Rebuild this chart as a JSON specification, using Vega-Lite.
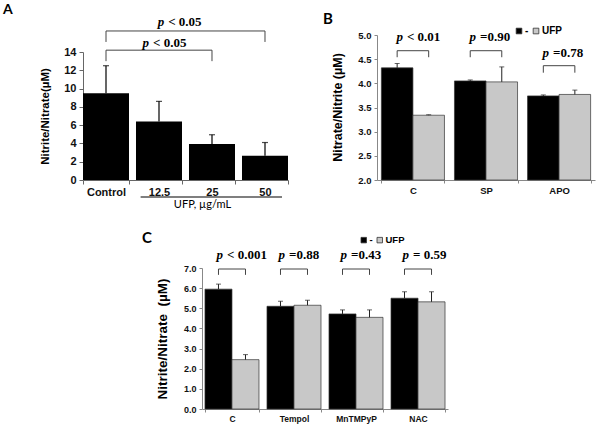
{
  "$schema": "https://vega.github.io/schema/vega-lite/v6.json",
  "width": 600,
  "height": 424,
  "autosize": "none",
  "padding": 0,
  "background": "white",
  "title": {"text": "A", "anchor": "start", "frame": "group", "orient": "top", "offset": 0, "dx": 3, "dy": 17, "baseline": "top", "font": "Lato", "fontSize": 14, "fontWeight": "bold", "color": "#000"},
  "config": {
    "view": {"stroke": null},
    "axis": {"grid": false, "labelFont": "Liberation Sans", "labelFontWeight": "bold", "labelColor": "#111", "titleFont": "Liberation Sans", "titleFontWeight": "bold", "titleColor": "#000", "labelFlush": false, "labelOverlap": false, "domainColor": "#888", "tickColor": "#888"}
  },
  "datasets": {
    "aBars": [
      {"dose": "Control", "v": 9.5, "hi": 12.5},
      {"dose": "12.5", "v": 6.4, "hi": 8.6},
      {"dose": "25", "v": 3.95, "hi": 4.95},
      {"dose": "50", "v": 2.65, "hi": 4.1}
    ],
    "aBrackets": [
      {"id": "u", "dose": "Control", "yv": 15.1, "k": 0},
      {"id": "u", "dose": "Control", "yv": 16.3, "k": 1},
      {"id": "u", "dose": "50", "yv": 16.3, "k": 2},
      {"id": "u", "dose": "50", "yv": 15.1, "k": 3},
      {"id": "l", "dose": "Control", "yv": 13.0, "k": 0},
      {"id": "l", "dose": "Control", "yv": 14.2, "k": 1},
      {"id": "l", "dose": "25", "yv": 14.2, "k": 2},
      {"id": "l", "dose": "25", "yv": 13.0, "k": 3}
    ],
    "aP": [
      {"pos": "upper", "dose": "12.5", "yv": 17.28, "rest": "< 0.05"},
      {"pos": "lower", "dose": "12.5", "yv": 14.98, "rest": "< 0.05"}
    ],
    "bBars": [
      {"g": "C", "s": "-", "v": 4.32, "hi": 4.41},
      {"g": "C", "s": "UFP", "v": 3.34, "hi": 3.35},
      {"g": "SP", "s": "-", "v": 4.05, "hi": 4.07},
      {"g": "SP", "s": "UFP", "v": 4.03, "hi": 4.34},
      {"g": "APO", "s": "-", "v": 3.74, "hi": 3.76},
      {"g": "APO", "s": "UFP", "v": 3.77, "hi": 3.86}
    ],
    "bBrackets": [
      {"g": "C", "s": "-", "yv": 4.54, "k": 0},
      {"g": "C", "s": "-", "yv": 4.675, "k": 1},
      {"g": "C", "s": "UFP", "yv": 4.675, "k": 2},
      {"g": "C", "s": "UFP", "yv": 4.54, "k": 3},
      {"g": "SP", "s": "-", "yv": 4.54, "k": 0},
      {"g": "SP", "s": "-", "yv": 4.675, "k": 1},
      {"g": "SP", "s": "UFP", "yv": 4.675, "k": 2},
      {"g": "SP", "s": "UFP", "yv": 4.54, "k": 3},
      {"g": "APO", "s": "-", "yv": 4.22, "k": 0},
      {"g": "APO", "s": "-", "yv": 4.365, "k": 1},
      {"g": "APO", "s": "UFP", "yv": 4.365, "k": 2},
      {"g": "APO", "s": "UFP", "yv": 4.22, "k": 3}
    ],
    "bP": [
      {"g": "C", "yv": 4.96, "rest": "< 0.01"},
      {"g": "SP", "yv": 4.96, "rest": "=0.90"},
      {"g": "APO", "yv": 4.63, "rest": "=0.78"}
    ],
    "cBars": [
      {"g": "C", "s": "-", "v": 5.95, "hi": 6.2},
      {"g": "C", "s": "UFP", "v": 2.45, "hi": 2.7},
      {"g": "Tempol", "s": "-", "v": 5.1, "hi": 5.35},
      {"g": "Tempol", "s": "UFP", "v": 5.15, "hi": 5.4},
      {"g": "MnTMPyP", "s": "-", "v": 4.72, "hi": 4.92},
      {"g": "MnTMPyP", "s": "UFP", "v": 4.55, "hi": 4.92},
      {"g": "NAC", "s": "-", "v": 5.5, "hi": 5.82},
      {"g": "NAC", "s": "UFP", "v": 5.32, "hi": 5.82}
    ],
    "cBrackets": [
      {"g": "C", "s": "-", "yv": 6.66, "k": 0},
      {"g": "C", "s": "-", "yv": 6.95, "k": 1},
      {"g": "C", "s": "UFP", "yv": 6.95, "k": 2},
      {"g": "C", "s": "UFP", "yv": 6.66, "k": 3},
      {"g": "Tempol", "s": "-", "yv": 6.66, "k": 0},
      {"g": "Tempol", "s": "-", "yv": 6.95, "k": 1},
      {"g": "Tempol", "s": "UFP", "yv": 6.95, "k": 2},
      {"g": "Tempol", "s": "UFP", "yv": 6.66, "k": 3},
      {"g": "MnTMPyP", "s": "-", "yv": 6.66, "k": 0},
      {"g": "MnTMPyP", "s": "-", "yv": 6.95, "k": 1},
      {"g": "MnTMPyP", "s": "UFP", "yv": 6.95, "k": 2},
      {"g": "MnTMPyP", "s": "UFP", "yv": 6.66, "k": 3},
      {"g": "NAC", "s": "-", "yv": 6.66, "k": 0},
      {"g": "NAC", "s": "-", "yv": 6.95, "k": 1},
      {"g": "NAC", "s": "UFP", "yv": 6.95, "k": 2},
      {"g": "NAC", "s": "UFP", "yv": 6.66, "k": 3}
    ],
    "cP": [
      {"g": "C", "yv": 7.67, "rest": "< 0.001"},
      {"g": "Tempol", "yv": 7.67, "rest": "=0.88"},
      {"g": "MnTMPyP", "yv": 7.67, "rest": "=0.43"},
      {"g": "NAC", "yv": 7.67, "rest": "= 0.59"}
    ]
  },
  "layer": [
    {
      "layer": [
        {
          "data": {"name": "aBars"},
          "mark": {"type": "bar", "color": "#000000"},
          "encoding": {
            "x": {"field": "dose", "type": "nominal", "sort": null,
              "scale": {"domain": ["Control", "12.5", "25", "50"], "range": [83, 288], "paddingInner": 0.132, "paddingOuter": 0},
              "axis": {"orient": "bottom", "offset": -244, "tickBand": "extent", "tickSize": 4, "labelFontSize": 11, "labelPadding": 2, "labelAngle": 0, "domainColor": "#666", "tickColor": "#666",
                "title": "UFP, µg/mL", "titleX": 202, "titleY": 24, "titleAngle": 0, "titleAlign": "center", "titleBaseline": "middle", "titleFont": "Lato", "titleFontWeight": "normal", "titleFontSize": 11}},
            "y": {"field": "v", "type": "quantitative",
              "scale": {"domain": [0, 14], "range": [180, 52], "nice": false},
              "axis": {"orient": "left", "offset": -83, "values": [0, 2, 4, 6, 8, 10, 12, 14], "tickSize": 4, "labelFontSize": 11, "labelPadding": 3, "domainColor": "#666", "tickColor": "#666",
                "title": "Nitrite/Nitrate(µM)", "titleX": -38, "titleY": 116, "titleAngle": -90, "titleAlign": "center", "titleBaseline": "middle", "titleFontSize": 11.5}}
          }
        },
        {
          "data": {"name": "aBars"},
          "mark": {"type": "rule", "color": "#000000", "strokeWidth": 1.2},
          "encoding": {
            "x": {"field": "dose", "type": "nominal", "sort": null},
            "y": {"field": "v", "type": "quantitative"},
            "y2": {"field": "hi"}
          }
        },
        {
          "data": {"name": "aBars"},
          "mark": {"type": "tick", "orient": "horizontal", "size": 6, "thickness": 1.2, "color": "#000000"},
          "encoding": {
            "x": {"field": "dose", "type": "nominal", "sort": null},
            "y": {"field": "hi", "type": "quantitative"}
          }
        },
        {
          "data": {"name": "aBrackets"},
          "mark": {"type": "line", "color": "#444444", "strokeWidth": 1},
          "encoding": {
            "x": {"field": "dose", "type": "nominal", "sort": null},
            "y": {"field": "yv", "type": "quantitative"},
            "detail": {"field": "id"},
            "order": {"field": "k", "type": "quantitative"}
          }
        },
        {
          "data": {"values": [{"label": "UFP"}]},
          "mark": {"type": "rule", "color": "#000000", "strokeWidth": 1.2, "x2Offset": 17},
          "encoding": {
            "x": {"datum": "12.5", "type": "nominal", "bandPosition": 0.1},
            "x2": {"datum": "50"},
            "y": {"datum": -1.86, "type": "quantitative"}
          }
        },
        {
          "data": {"name": "aP"},
          "transform": [{"filter": "datum.pos === 'upper'"}],
          "layer": [
            {
              "mark": {"type": "text", "text": "p", "font": "Liberation Serif", "fontSize": 13, "fontWeight": "bold", "fontStyle": "italic", "align": "right", "baseline": "middle", "dx": -10},
              "encoding": {
                "x": {"field": "dose", "type": "nominal", "sort": null, "bandPosition": 0.83},
                "y": {"field": "yv", "type": "quantitative"}
              }
            },
            {
              "mark": {"type": "text", "font": "Liberation Serif", "fontSize": 13, "fontWeight": "bold", "align": "left", "baseline": "middle", "dx": -6},
              "encoding": {
                "x": {"field": "dose", "type": "nominal", "sort": null, "bandPosition": 0.83},
                "y": {"field": "yv", "type": "quantitative"},
                "text": {"field": "rest"}
              }
            }
          ]
        },
        {
          "data": {"name": "aP"},
          "transform": [{"filter": "datum.pos === 'lower'"}],
          "layer": [
            {
              "mark": {"type": "text", "text": "p", "font": "Liberation Serif", "fontSize": 13, "fontWeight": "bold", "fontStyle": "italic", "align": "right", "baseline": "middle", "dx": -10},
              "encoding": {
                "x": {"field": "dose", "type": "nominal", "sort": null},
                "y": {"field": "yv", "type": "quantitative"}
              }
            },
            {
              "mark": {"type": "text", "font": "Liberation Serif", "fontSize": 13, "fontWeight": "bold", "align": "left", "baseline": "middle", "dx": -6},
              "encoding": {
                "x": {"field": "dose", "type": "nominal", "sort": null},
                "y": {"field": "yv", "type": "quantitative"},
                "text": {"field": "rest"}
              }
            }
          ]
        }
      ]
    },
    {
      "layer": [
        {
          "data": {"name": "bBars"},
          "mark": {"type": "bar", "stroke": "#333333", "strokeWidth": 0.7},
          "encoding": {
            "x": {"field": "g", "type": "nominal", "sort": null,
              "scale": {"domain": ["C", "SP", "APO"], "range": [377, 595], "paddingInner": 0.137, "paddingOuter": 0.06},
              "axis": {"orient": "bottom", "offset": -244, "tickBand": "extent", "tickSize": 3, "labelFontSize": 9.5, "labelPadding": 2, "labelAngle": 0,
                "title": "B", "titleX": 327.5, "titleY": -162, "titleAngle": 0, "titleAlign": "center", "titleBaseline": "middle", "titleFont": "Lato", "titleFontSize": 15, "titleFontWeight": "bold"}},
            "xOffset": {"field": "s", "type": "nominal", "sort": null, "scale": {"domain": ["-", "UFP"], "paddingInner": 0, "paddingOuter": 0}},
            "y": {"field": "v", "type": "quantitative",
              "scale": {"domain": [2, 5], "range": [180, 35], "nice": false, "zero": false},
              "axis": {"orient": "left", "offset": -377, "values": [2, 2.5, 3, 3.5, 4, 4.5, 5], "format": ".1f", "tickSize": 3, "labelFontSize": 9.5, "labelPadding": 3,
                "title": "Nitrate/Nitrite (µM)", "titleX": -40, "titleY": 107, "titleAngle": -90, "titleAlign": "center", "titleBaseline": "middle", "titleFontSize": 12.5}},
            "y2": {"datum": 2},
            "fill": {"field": "s", "type": "nominal", "sort": null,
              "scale": {"domain": ["-", "UFP"], "range": ["#000000", "#c8c8c8"]},
              "legend": {"orient": "none", "legendX": 514, "legendY": 26, "direction": "horizontal", "title": null, "symbolType": "square", "symbolSize": 32, "symbolStrokeColor": "#333333", "symbolStrokeWidth": 0.8, "labelFont": "Liberation Sans", "labelFontWeight": "bold", "labelFontSize": 10, "labelOffset": 1, "columnPadding": 2, "padding": 0}}
          }
        },
        {
          "data": {"name": "bBars"},
          "mark": {"type": "rule", "color": "#222222", "strokeWidth": 1},
          "encoding": {
            "x": {"field": "g", "type": "nominal", "sort": null},
            "xOffset": {"field": "s", "type": "nominal", "sort": null},
            "y": {"field": "v", "type": "quantitative"},
            "y2": {"field": "hi"}
          }
        },
        {
          "data": {"name": "bBars"},
          "mark": {"type": "tick", "orient": "horizontal", "size": 5, "thickness": 1, "color": "#222222"},
          "encoding": {
            "x": {"field": "g", "type": "nominal", "sort": null},
            "xOffset": {"field": "s", "type": "nominal", "sort": null},
            "y": {"field": "hi", "type": "quantitative"}
          }
        },
        {
          "data": {"name": "bBrackets"},
          "mark": {"type": "line", "color": "#444444", "strokeWidth": 1},
          "encoding": {
            "x": {"field": "g", "type": "nominal", "sort": null},
            "xOffset": {"field": "s", "type": "nominal", "sort": null},
            "y": {"field": "yv", "type": "quantitative"},
            "detail": {"field": "g"},
            "order": {"field": "k", "type": "quantitative"}
          }
        },
        {
          "data": {"name": "bP"},
          "mark": {"type": "text", "text": "p", "font": "Liberation Serif", "fontSize": 13, "fontWeight": "bold", "fontStyle": "italic", "align": "right", "baseline": "middle", "dx": -10},
          "encoding": {
            "x": {"field": "g", "type": "nominal", "sort": null},
            "y": {"field": "yv", "type": "quantitative"}
          }
        },
        {
          "data": {"name": "bP"},
          "mark": {"type": "text", "font": "Liberation Serif", "fontSize": 13, "fontWeight": "bold", "align": "left", "baseline": "middle", "dx": -6},
          "encoding": {
            "x": {"field": "g", "type": "nominal", "sort": null},
            "y": {"field": "yv", "type": "quantitative"},
            "text": {"field": "rest"}
          }
        }
      ]
    },
    {
      "layer": [
        {
          "data": {"name": "cBars"},
          "mark": {"type": "bar", "stroke": "#333333", "strokeWidth": 0.7},
          "encoding": {
            "x": {"field": "g", "type": "nominal", "sort": null,
              "scale": {"domain": ["C", "Tempol", "MnTMPyP", "NAC"], "range": [202, 448], "paddingInner": 0.129, "paddingOuter": 0.048},
              "axis": {"orient": "bottom", "offset": -15, "tickBand": "extent", "tickSize": 3, "labelFontSize": 8.5, "labelPadding": 2, "labelAngle": 0,
                "title": "C", "titleX": 146.5, "titleY": -171.5, "titleAngle": 0, "titleAlign": "center", "titleBaseline": "middle", "titleFont": "Lato", "titleFontSize": 15, "titleFontWeight": "bold"}},
            "xOffset": {"field": "s", "type": "nominal", "sort": null, "scale": {"domain": ["-", "UFP"], "paddingInner": 0, "paddingOuter": 0}},
            "y": {"field": "v", "type": "quantitative",
              "scale": {"domain": [0, 7], "range": [409, 268], "nice": false},
              "axis": {"orient": "left", "offset": -202, "values": [0, 1, 2, 3, 4, 5, 6, 7], "format": ".1f", "tickSize": 3, "labelFontSize": 9, "labelPadding": 3,
                "title": "Nitrite/Nitrate \u00a0(µM)", "titleX": -40, "titleY": 338.5, "titleAngle": -90, "titleAlign": "center", "titleBaseline": "middle", "titleFontSize": 13.5}},
            "y2": {"datum": 0},
            "fill": {"field": "s", "type": "nominal", "sort": null,
              "scale": {"domain": ["-", "UFP"], "range": ["#000000", "#c8c8c8"]},
              "legend": {"orient": "none", "legendX": 359, "legendY": 235, "direction": "horizontal", "title": null, "symbolType": "square", "symbolSize": 30, "symbolStrokeColor": "#333333", "symbolStrokeWidth": 0.8, "labelFont": "Liberation Sans", "labelFontWeight": "bold", "labelFontSize": 9.5, "labelOffset": 1, "columnPadding": 2, "padding": 0}}
          }
        },
        {
          "data": {"name": "cBars"},
          "mark": {"type": "rule", "color": "#222222", "strokeWidth": 1},
          "encoding": {
            "x": {"field": "g", "type": "nominal", "sort": null},
            "xOffset": {"field": "s", "type": "nominal", "sort": null},
            "y": {"field": "v", "type": "quantitative"},
            "y2": {"field": "hi"}
          }
        },
        {
          "data": {"name": "cBars"},
          "mark": {"type": "tick", "orient": "horizontal", "size": 5, "thickness": 1, "color": "#222222"},
          "encoding": {
            "x": {"field": "g", "type": "nominal", "sort": null},
            "xOffset": {"field": "s", "type": "nominal", "sort": null},
            "y": {"field": "hi", "type": "quantitative"}
          }
        },
        {
          "data": {"name": "cBrackets"},
          "mark": {"type": "line", "color": "#444444", "strokeWidth": 1},
          "encoding": {
            "x": {"field": "g", "type": "nominal", "sort": null},
            "xOffset": {"field": "s", "type": "nominal", "sort": null},
            "y": {"field": "yv", "type": "quantitative"},
            "detail": {"field": "g"},
            "order": {"field": "k", "type": "quantitative"}
          }
        },
        {
          "data": {"name": "cP"},
          "mark": {"type": "text", "text": "p", "font": "Liberation Serif", "fontSize": 13, "fontWeight": "bold", "fontStyle": "italic", "align": "right", "baseline": "middle", "dx": -9},
          "encoding": {
            "x": {"field": "g", "type": "nominal", "sort": null},
            "y": {"field": "yv", "type": "quantitative"}
          }
        },
        {
          "data": {"name": "cP"},
          "mark": {"type": "text", "font": "Liberation Serif", "fontSize": 13, "fontWeight": "bold", "align": "left", "baseline": "middle", "dx": -5},
          "encoding": {
            "x": {"field": "g", "type": "nominal", "sort": null},
            "y": {"field": "yv", "type": "quantitative"},
            "text": {"field": "rest"}
          }
        }
      ]
    }
  ],
  "resolve": {
    "scale": {"x": "independent", "y": "independent", "xOffset": "independent", "fill": "independent"},
    "axis": {"x": "independent", "y": "independent"},
    "legend": {"fill": "independent"}
  }
}
